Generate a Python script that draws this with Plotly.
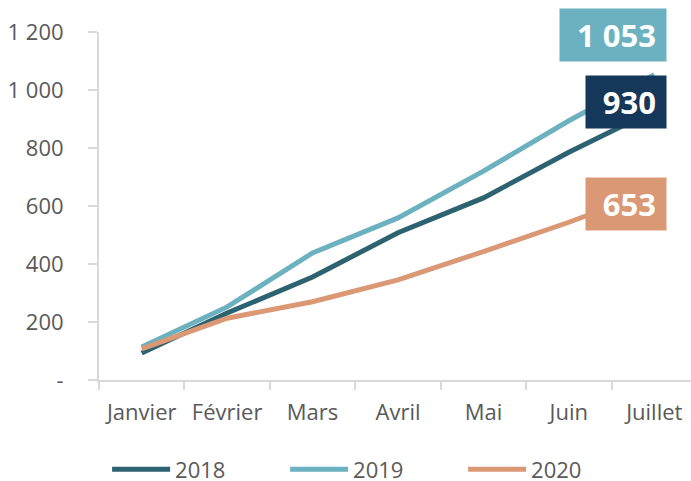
import plotly.graph_objects as go

months = ["Janvier", "Février", "Mars", "Avril", "Mai", "Juin", "Juillet"]
v2018 = [93, 231, 355, 508, 628, 785, 930]
v2019 = [114, 252, 438, 559, 720, 894, 1053]
v2020 = [107, 213, 270, 345, 443, 544, 653]
series_names = ["2018", "2019", "2020"]
line_colors = ["#2D6270", "#6BB1C0", "#DB9874"]
label_colors = ["#14375A", "#6BB1C0", "#DB9874"]
y_tickvals = [0, 200, 400, 600, 800, 1000, 1200]
y_ticktext = ["-", "200", "400", "600", "800", "1 000", "1 200"]

fig = go.Figure()
for name, vals, col in zip(series_names, [v2018, v2019, v2020], line_colors):
    fig.add_trace(go.Scatter(x=months, y=vals, name=name, mode="lines",
                             line=dict(color=col, width=5)))

# end labels
label_specs = [
    (v2019[-1], "1 053", label_colors[1], 86, 40),
    (v2018[-1], "930", label_colors[0], 60, 8),
    (v2020[-1], "653", label_colors[2], 60, -13),
]
for val, txt, col, w, ys in label_specs:
    fig.add_annotation(x=months[-1], y=val, text="<b>%s</b>" % txt, showarrow=False,
                       xanchor="right", yanchor="middle", xshift=13, yshift=ys,
                       bgcolor=col, width=w, height=32, borderpad=10, align="right",
                       valign="middle",
                       font=dict(family="Open Sans", size=31, color="white"))

fig.update_layout(
    width=691, height=481,
    margin=dict(l=99, r=0, t=32, b=101, autoexpand=False),
    paper_bgcolor="white", plot_bgcolor="white",
    font=dict(family="Open Sans", size=22, color="#595959"),
    legend=dict(orientation="h", xref="container", x=0.155, xanchor="left",
                yref="container", y=0.024, yanchor="middle",
                entrywidth=105, entrywidthmode="pixels", font=dict(size=22, color="#595959"),
                itemwidth=58, tracegroupgap=0),
)
fig.update_xaxes(range=[-0.5, 6.43], showgrid=False, showline=True, linecolor="#D9D9D9",
                 linewidth=2, ticks="outside", tickson="boundaries", ticklen=8,
                 tickcolor="#D9D9D9", tickwidth=2, tickfont=dict(size=22, color="#595959"),
                 automargin=False, tickangle=0, ticklabelstandoff=12)
fig.update_yaxes(range=[0, 1200], tickvals=y_tickvals, ticktext=y_ticktext, showgrid=False,
                 showline=True, linecolor="#D9D9D9", linewidth=2, ticks="outside", ticklen=9,
                 tickcolor="#D9D9D9", tickwidth=2, ticklabelstandoff=20, zeroline=False,
                 tickfont=dict(size=22, color="#595959"), automargin=False)

fig.write_html("out.html", post_script="document.body.style.margin='0';",
               config={"displayModeBar": False})
